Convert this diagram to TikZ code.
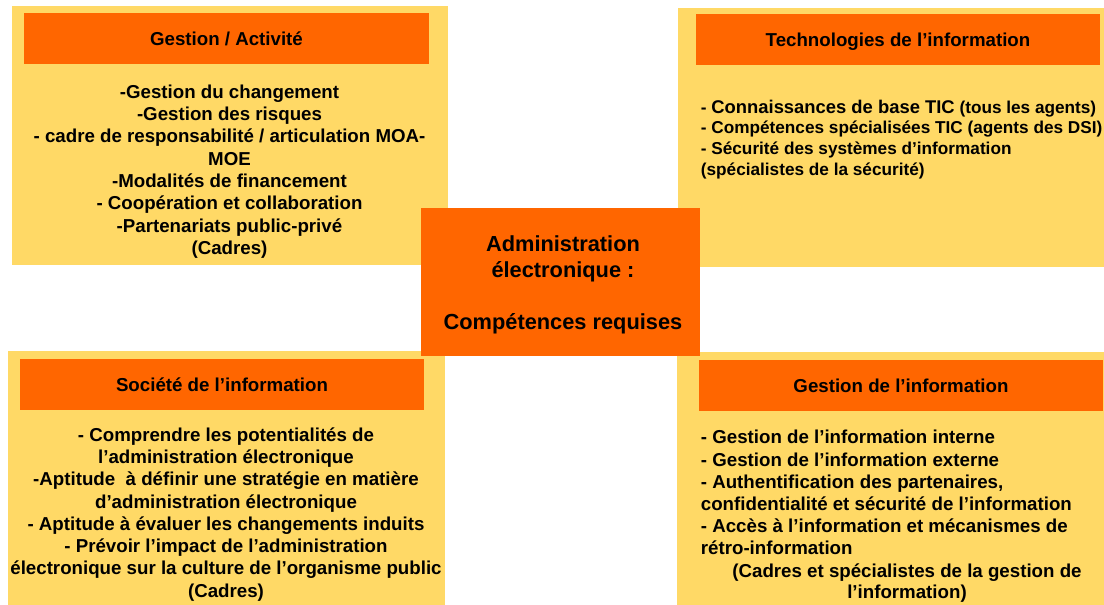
\documentclass[tikz,border=0pt]{standalone}
\usepackage{fontspec}
\setmainfont{Liberation Sans}
\definecolor{panelyellow}{RGB}{255,217,102}
\definecolor{headorange}{RGB}{255,102,0}

\begin{document}
\begin{tikzpicture}[x=1pt, y=-1pt,
		panel/.style={fill=panelyellow, inner sep=0pt},
		header/.style={fill=headorange, inner sep=0pt, minimum width=404pt, minimum height=51pt,
			text height=13.5pt, text depth=0pt, font=\fontsize{18.7}{22.3}\selectfont\bfseries},
		body/.style={inner sep=0pt, font=\fontsize{18.7}{22.3}\selectfont\bfseries}]

		\useasboundingbox (0,0) rectangle (1104,605);

		% Panels
		\node[panel, minimum width=436pt, minimum height=259pt] (gestpanel) at (230,135.5) {};
		\node[panel, minimum width=426pt, minimum height=259pt] (techpanel) at (891,137.5) {};
		\node[panel, minimum width=437pt, minimum height=254pt] (socpanel) at (226.5,478) {};
		\node[panel, minimum width=427pt, minimum height=253pt] (infopanel) at (890.5,478.5) {};

		% Headers
		\node[header, minimum width=405pt] (gesthead) at (226.5,38.5) {Gestion / Activité};
		\node[header] (techhead) at (898,39.5) {Technologies de l’information};
		\node[header] (sochead) at (222,384.5) {Société de l’information};
		\node[header] (infohead) at (901,385.5) {Gestion de l’information};

		% Lists
		\node[body, align=center] (gestlist) at (229.5,171.5) {-Gestion du changement\\
			-Gestion des risques\\
			- cadre de responsabilité / articulation MOA-\\
			MOE\\
			-Modalités de financement\\
			- Coopération et collaboration\\
			-Partenariats public-privé\\
			(Cadres)};
		\node[body, anchor=west, align=left, font=\fontsize{17.2}{20.6}\selectfont\bfseries] (techlist) at (700.7,139.4)
			{- {\fontsize{18.4}{20.6}\selectfont Connaissances de base TIC} (tous les agents)\\
			- Compétences spécialisées TIC (agents des DSI)\\
			- Sécurité des systèmes d’information\\
			(spécialistes de la sécurité)};
		\node[body, align=center] (soclist) at (226,514.3) {- Comprendre les potentialités de\\
			l’administration électronique\\
			-Aptitude\ \ à définir une stratégie en matière\\
			d’administration électronique\\
			- Aptitude à évaluer les changements induits\\
			- Prévoir l’impact de l’administration\\
			électronique sur la culture de l’organisme public\\
			(Cadres)};
		\node[body, anchor=west, align=left, font=\fontsize{18.7}{22.2}\selectfont\bfseries] (infolist) at (700.7,492.7)
			{- Gestion de l’information interne\\
			- Gestion de l’information externe\\
			- Authentification des partenaires,\\
			confidentialité et sécurité de l’information\\
			- Accès à l’information et mécanismes de\\
			rétro-information};
		\node[body, align=center, font=\fontsize{18.7}{21}\selectfont\bfseries] (infonote) at (907,582.9)
			{(Cadres et spécialistes de la gestion de\\
			l’information)};

		% Centre
		\node[fill=headorange, inner sep=0pt, minimum width=279pt, minimum height=148pt] (core) at (560.5,282) {};
		\node[body, align=center, font=\fontsize{21.8}{26}\selectfont\bfseries] (coretext) at (563,285)
			{Administration\\ électronique :\\[26pt] Compétences requises};

	\end{tikzpicture}
\end{document}
